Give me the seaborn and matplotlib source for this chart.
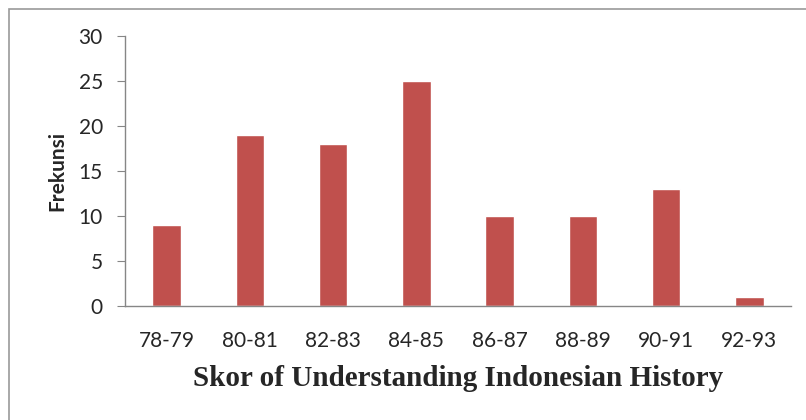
import matplotlib
matplotlib.use("Agg")
import matplotlib.pyplot as plt
from matplotlib.patches import Rectangle
import seaborn as sns
import pandas as pd

categories = ["78-79", "80-81", "82-83", "84-85", "86-87", "88-89", "90-91", "92-93"]
frekunsi = [9, 19, 18, 25, 10, 10, 13, 1]

df = pd.DataFrame({"Skor": categories, "Frekunsi": frekunsi})

sns.set_style("white")
plt.rcParams["font.family"] = ["Lato", "DejaVu Sans"]

fig = plt.figure(figsize=(8.06, 4.2), dpi=100)
ax = fig.add_axes([125 / 806, 1 - 306 / 420, (791 - 125) / 806, (306 - 36) / 420])

sns.barplot(data=df, x="Skor", y="Frekunsi", color="#C0504D", saturation=1,
            width=0.34, ax=ax)

ax.set_ylim(0, 30)
ax.set_yticks(range(0, 31, 5))
ax.set_xlim(-0.5, len(categories) - 0.5)
sns.despine(ax=ax)
for side in ["left", "bottom"]:
    ax.spines[side].set_color("#868686")
    ax.spines[side].set_linewidth(1)
ax.tick_params(axis="y", length=6, color="#868686", labelsize=15, pad=10, direction="out", left=True)
ax.tick_params(axis="x", length=0, labelsize=15, pad=18)

ax.set_ylabel("Frekunsi", fontsize=15, fontweight="bold", labelpad=8)
ax.set_xlabel("Skor of Understanding Indonesian History", fontsize=21, fontweight="bold",
              family="Liberation Serif", labelpad=10)

# outer chart frame
fig.patches.append(Rectangle((9 / 806, -0.1), 1.1, 1 - 9 / 420 + 0.1, transform=fig.transFigure,
                             fill=False, edgecolor="#999999", linewidth=1.2))

fig.savefig("out.png", dpi=100)
